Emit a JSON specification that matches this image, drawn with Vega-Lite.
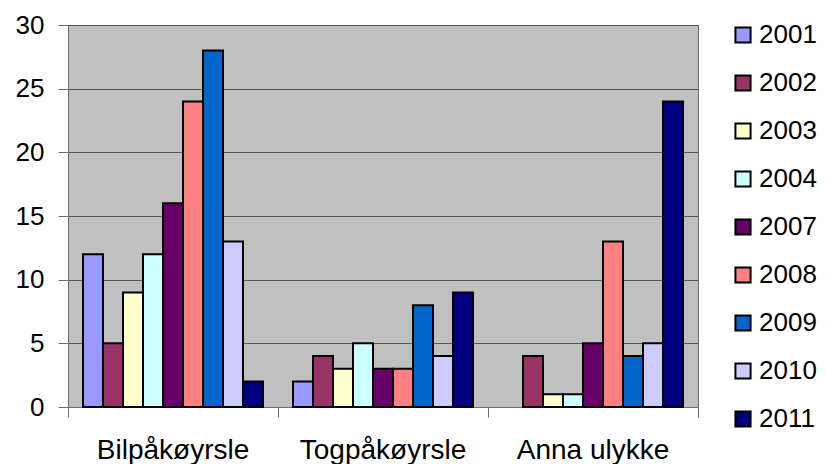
{
  "$schema": "https://vega.github.io/schema/vega-lite/v6.json",
  "width": 630,
  "height": 382,
  "autosize": "none",
  "padding": {"left": 68, "top": 25, "right": 127, "bottom": 57},
  "background": "white",
  "config": {
    "view": {"fill": "#C0C0C0", "stroke": "#6E6E6E", "strokeWidth": 1},
    "font": "Liberation Sans"
  },
  "data": {
    "values": [
      {"kategori": "Bilpåkøyrsle", "år": "2001", "antal": 12},
      {"kategori": "Bilpåkøyrsle", "år": "2002", "antal": 5},
      {"kategori": "Bilpåkøyrsle", "år": "2003", "antal": 9},
      {"kategori": "Bilpåkøyrsle", "år": "2004", "antal": 12},
      {"kategori": "Bilpåkøyrsle", "år": "2007", "antal": 16},
      {"kategori": "Bilpåkøyrsle", "år": "2008", "antal": 24},
      {"kategori": "Bilpåkøyrsle", "år": "2009", "antal": 28},
      {"kategori": "Bilpåkøyrsle", "år": "2010", "antal": 13},
      {"kategori": "Bilpåkøyrsle", "år": "2011", "antal": 2},
      {"kategori": "Togpåkøyrsle", "år": "2001", "antal": 2},
      {"kategori": "Togpåkøyrsle", "år": "2002", "antal": 4},
      {"kategori": "Togpåkøyrsle", "år": "2003", "antal": 3},
      {"kategori": "Togpåkøyrsle", "år": "2004", "antal": 5},
      {"kategori": "Togpåkøyrsle", "år": "2007", "antal": 3},
      {"kategori": "Togpåkøyrsle", "år": "2008", "antal": 3},
      {"kategori": "Togpåkøyrsle", "år": "2009", "antal": 8},
      {"kategori": "Togpåkøyrsle", "år": "2010", "antal": 4},
      {"kategori": "Togpåkøyrsle", "år": "2011", "antal": 9},
      {"kategori": "Anna ulykke", "år": "2002", "antal": 4},
      {"kategori": "Anna ulykke", "år": "2003", "antal": 1},
      {"kategori": "Anna ulykke", "år": "2004", "antal": 1},
      {"kategori": "Anna ulykke", "år": "2007", "antal": 5},
      {"kategori": "Anna ulykke", "år": "2008", "antal": 13},
      {"kategori": "Anna ulykke", "år": "2009", "antal": 4},
      {"kategori": "Anna ulykke", "år": "2010", "antal": 5},
      {"kategori": "Anna ulykke", "år": "2011", "antal": 24}
    ]
  },
  "layer": [
    {
      "mark": {"type": "bar", "stroke": "black", "strokeWidth": 2},
      "encoding": {
        "x": {
          "field": "kategori", "type": "nominal",
          "sort": ["Bilpåkøyrsle", "Togpåkøyrsle", "Anna ulykke"],
          "scale": {"paddingInner": 0.142857, "paddingOuter": 0.0714285},
          "axis": {
            "title": null, "labelAngle": 0, "ticks": false, "orient": "bottom",
            "labelFontSize": 28, "labelColor": "black", "labelPadding": 29,
            "domainColor": "#6E6E6E", "domainWidth": 1
          }
        },
        "xOffset": {
          "field": "år", "type": "nominal",
          "scale": {"paddingInner": 0, "paddingOuter": 0}
        },
        "y": {
          "field": "antal", "type": "quantitative",
          "scale": {"domain": [0, 30], "nice": false},
          "axis": {
            "title": null, "values": [0, 5, 10, 15, 20, 25, 30],
            "labelFontSize": 26, "labelColor": "black", "labelPadding": 14,
            "tickSize": 10, "tickColor": "#6E6E6E",
            "grid": true, "gridColor": "#555555", "gridWidth": 1,
            "domainColor": "#6E6E6E"
          }
        },
        "color": {
          "field": "år", "type": "nominal",
          "scale": {
            "domain": ["2001", "2002", "2003", "2004", "2007", "2008", "2009", "2010", "2011"],
            "range": ["#9999FF", "#993366", "#FFFFCC", "#CCFFFF", "#660066", "#FF8080", "#0066CC", "#CCCCFF", "#000080"]
          },
          "legend": {
            "title": null, "orient": "none", "legendX": 662, "legendY": -3,
            "symbolType": "square", "symbolSize": 230, "symbolStrokeColor": "black",
            "symbolStrokeWidth": 2, "symbolOpacity": 1,
            "labelFontSize": 26, "labelColor": "black", "labelOffset": 3,
            "rowPadding": 22
          }
        }
      }
    },
    {
      "mark": {"type": "bar", "opacity": 0},
      "encoding": {
        "x": {
          "field": "kategori", "type": "nominal",
          "sort": ["Bilpåkøyrsle", "Togpåkøyrsle", "Anna ulykke"],
          "axis": {
            "title": null, "labels": false, "domain": false, "grid": false, "orient": "bottom",
            "ticks": true, "tickSize": 10, "tickColor": "#6E6E6E",
            "bandPosition": 1, "tickOffset": 15
          }
        },
        "y": {"field": "antal", "type": "quantitative"}
      }
    },
    {
      "mark": {"type": "bar", "opacity": 0},
      "encoding": {
        "x": {
          "field": "kategori", "type": "nominal",
          "sort": ["Bilpåkøyrsle", "Togpåkøyrsle", "Anna ulykke"],
          "axis": {
            "title": null, "labels": false, "domain": false, "grid": false, "orient": "bottom",
            "ticks": true, "tickSize": 10, "tickColor": "#6E6E6E",
            "bandPosition": 0, "tickOffset": -15, "values": ["Bilpåkøyrsle"]
          }
        },
        "y": {"field": "antal", "type": "quantitative"}
      }
    }
  ],
  "resolve": {"axis": {"x": "independent"}}
}
